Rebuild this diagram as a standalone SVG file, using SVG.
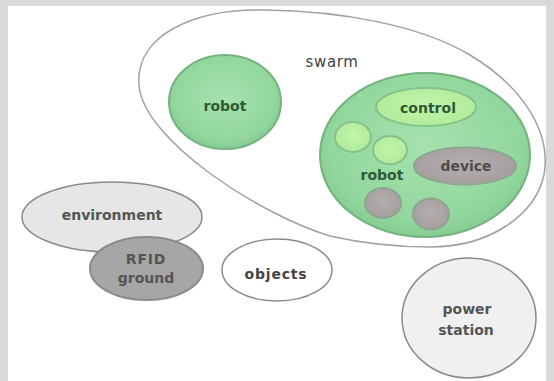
<svg xmlns="http://www.w3.org/2000/svg" width="554" height="381" viewBox="0 0 554 381">
  <defs>
    <radialGradient id="gGreen" cx="50%" cy="45%" r="60%">
      <stop offset="0" stop-color="#a6e2ae"/>
      <stop offset="0.75" stop-color="#92d79e"/>
      <stop offset="1" stop-color="#7fc58c"/>
    </radialGradient>
    <radialGradient id="gLight" cx="50%" cy="45%" r="60%">
      <stop offset="0" stop-color="#c2f5ac"/>
      <stop offset="1" stop-color="#aeea98"/>
    </radialGradient>
    <radialGradient id="gGrey" cx="50%" cy="45%" r="60%">
      <stop offset="0" stop-color="#b5aeae"/>
      <stop offset="1" stop-color="#a39d9d"/>
    </radialGradient>
    <style>
      .lbl { font-family: "DejaVu Sans", "Liberation Sans", sans-serif; font-size: 14px; font-weight: bold; text-anchor: middle; }
      .green { fill: url(#gGreen); stroke: #74b27f; stroke-width: 2; }
      .light { fill: url(#gLight); stroke: #86c28a; stroke-width: 2; }
      .grey { fill: url(#gGrey); stroke: #8fa590; stroke-width: 2; }
      .tg { fill: #2f5a36; }
      .tgrey { fill: #4d4d4d; }
    </style>
  </defs>

  <!-- frame -->
  <rect x="0" y="0" width="554" height="381" fill="#d9d9d9"/>
  <rect x="8" y="6" width="538" height="375" fill="#ffffff"/>

  <!-- swarm boundary -->
  <g id="swarm">
    <path d="M265,10 C195,8 135,35 139,85 C143,140 260,215 330,236 C370,245 400,247 430,247 C490,247 535,215 544,175 C552,130 520,85 470,55 C420,25 340,11 265,10 Z" fill="#ffffff" stroke="#a0a0a0" stroke-width="1.5"/>
    <text class="lbl" x="332" y="67" style="font-weight:normal; font-size:15px; letter-spacing:0.6px" fill="#444">swarm</text>
  </g>

  <g id="robot1">
    <ellipse class="green" cx="225" cy="102" rx="56" ry="47"/>
    <text class="lbl tg" x="225" y="111">robot</text>
  </g>

  <g id="robot2">
    <ellipse class="green" cx="425" cy="155" rx="105" ry="82"/>
    <text class="lbl tg" x="382" y="180">robot</text>
  </g>

  <g id="control">
    <ellipse class="light" cx="426" cy="107" rx="50" ry="19"/>
    <text class="lbl tg" x="428" y="113">control</text>
  </g>

  <g id="module1">
    <ellipse class="light" cx="353" cy="137" rx="18" ry="15"/>
  </g>
  <g id="module2">
    <ellipse class="light" cx="390" cy="150" rx="17" ry="14"/>
  </g>

  <g id="device">
    <ellipse class="grey" cx="465" cy="166" rx="51" ry="18.5"/>
    <text class="lbl tgrey" x="466" y="171">device</text>
  </g>

  <g id="device1">
    <ellipse class="grey" cx="383" cy="203" rx="18" ry="15"/>
  </g>
  <g id="device2">
    <ellipse class="grey" cx="431" cy="214" rx="18" ry="15.5"/>
  </g>

  <g id="environment">
    <ellipse cx="112" cy="217" rx="90" ry="35" fill="#e6e6e6" stroke="#8a8a8a" stroke-width="1.5"/>
    <text class="lbl" x="112" y="220" fill="#555">environment</text>
  </g>

  <g id="rfid">
    <ellipse cx="146.5" cy="268.5" rx="56.5" ry="31.5" fill="#a6a6a6" stroke="#8a8a8a" stroke-width="2"/>
    <text class="lbl" x="146" y="264" fill="#555" style="letter-spacing:0.8px">RFID</text>
    <text class="lbl" x="146" y="283" fill="#555">ground</text>
  </g>

  <g id="objects">
    <ellipse cx="277" cy="270" rx="55" ry="31" fill="#ffffff" stroke="#8a8a8a" stroke-width="1.5"/>
    <text class="lbl" x="276" y="279" fill="#444" style="letter-spacing:0.8px">objects</text>
  </g>

  <g id="power">
    <ellipse cx="469" cy="318" rx="67" ry="60" fill="#f0f0f0" stroke="#8a8a8a" stroke-width="1.5"/>
    <text class="lbl" x="467" y="314" fill="#555">power</text>
    <text class="lbl" x="466" y="335" fill="#555">station</text>
  </g>

  <g id="connectors"></g>
</svg>
